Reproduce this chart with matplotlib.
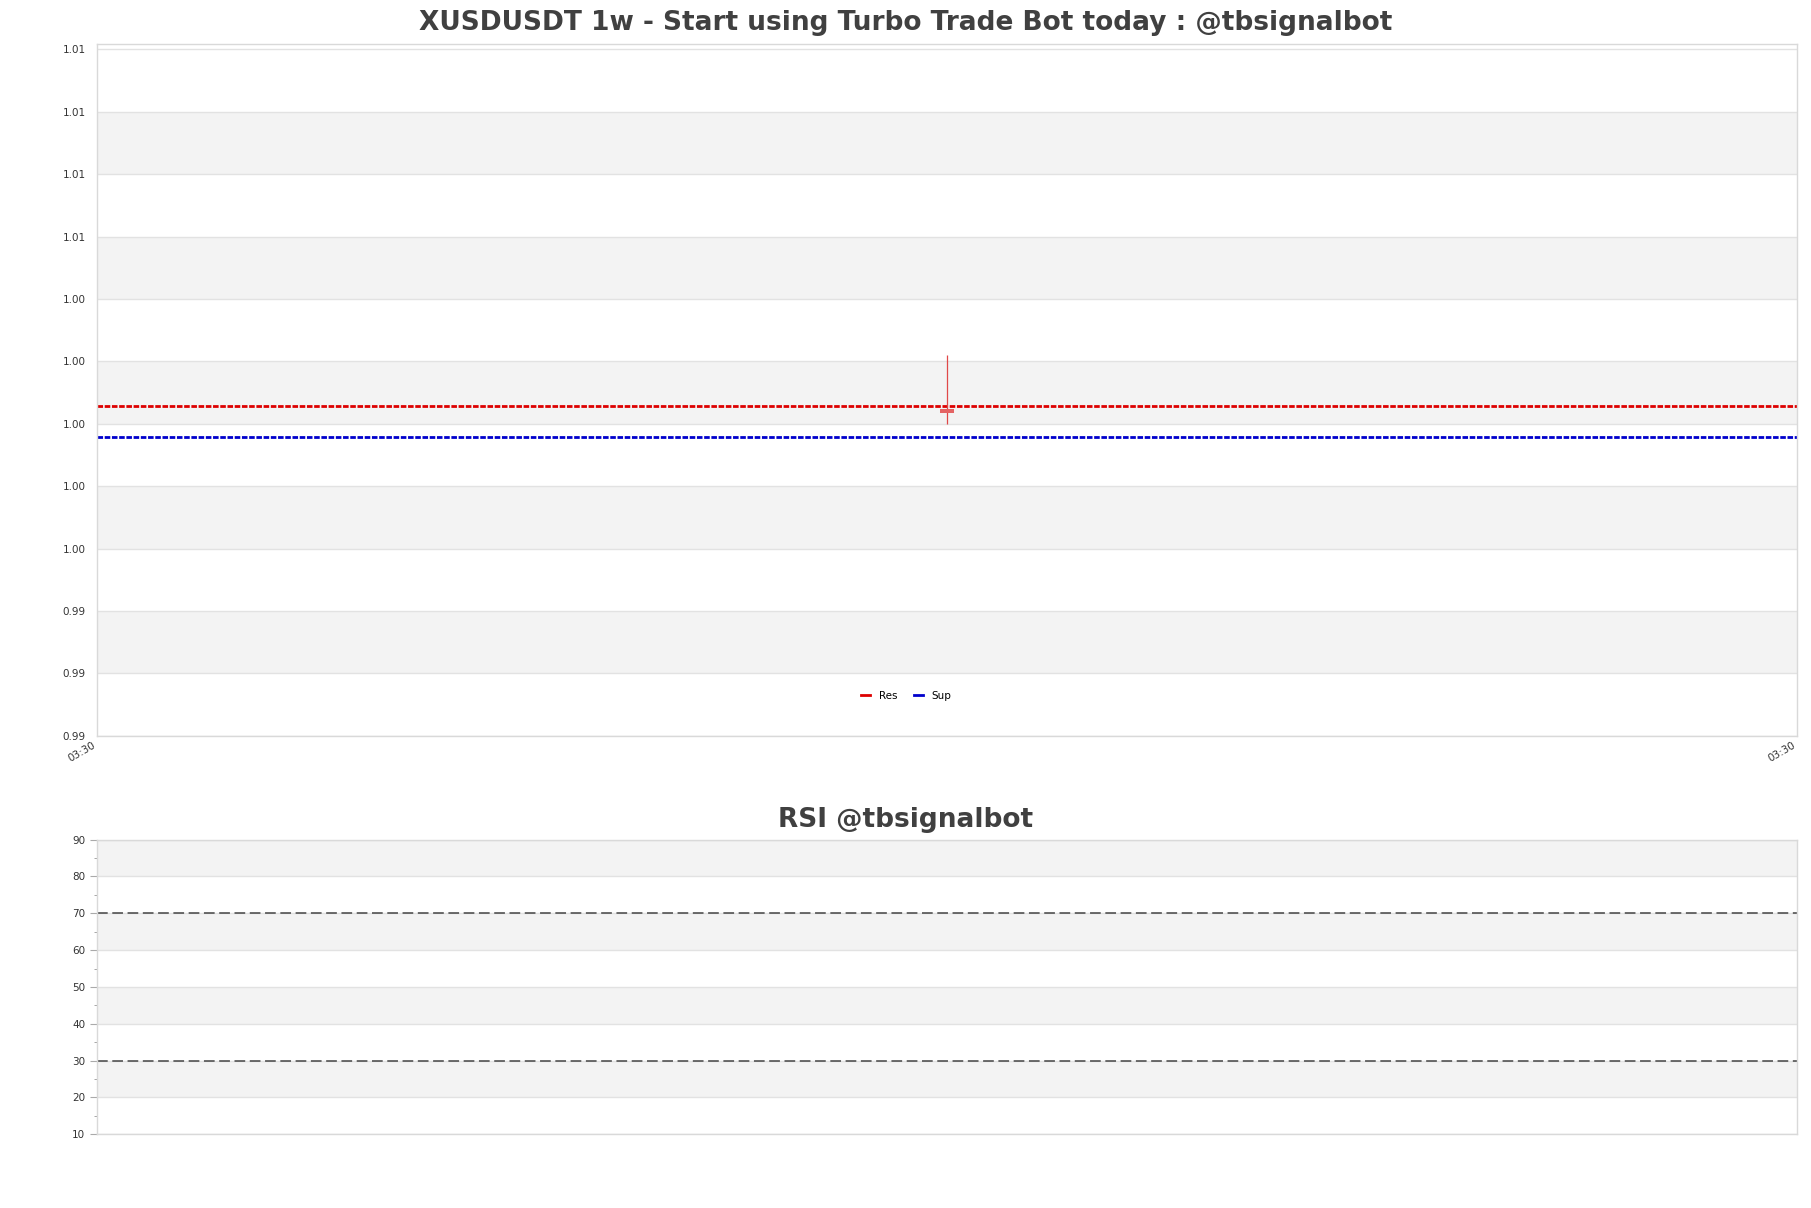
import numpy as np
import matplotlib
matplotlib.use("Agg")
import matplotlib.pyplot as plt
from matplotlib.ticker import MultipleLocator, FixedLocator

# candle data (one weekly candle)
candle_x = [0]
opens = [1.00049]
highs = [1.00220]
lows = [0.99998]
closes = [1.00036]

res_level = 1.00058
sup_level = 0.99958

x_ticks = [-0.5, 0.5]
x_labels = ['03:30', '03:30']

price_ticks = [0.990, 0.992, 0.994, 0.996, 0.998, 1.000, 1.002, 1.004, 1.006, 1.008, 1.010, 1.012]
rsi_ticks = [10, 20, 30, 40, 50, 60, 70, 80, 90]
rsi_levels = [70, 30]

title_main = 'XUSDUSDT 1w - Start using Turbo Trade Bot today : @tbsignalbot'
title_rsi = 'RSI @tbsignalbot'

spine_col = '#d9d9d9'
band_col = '#f3f3f3'
text_col = '#333333'


def style_axes(ax, ticks):
    for s in ax.spines.values():
        s.set_color(spine_col)
        s.set_linewidth(1.0)
    ax.set_facecolor('white')
    # alternating grey bands between ticks
    for i in range(len(ticks) - 1):
        if i % 2 == 1:
            ax.axhspan(ticks[i], ticks[i + 1], color=band_col, zorder=0, lw=0)
    for t in ticks:
        ax.axhline(t, color='#e2e2e2', lw=1.0, zorder=0.5)


def main():
    fig = plt.figure(figsize=(18.11, 12.08), dpi=100)

    ax = fig.add_axes([0.0536, 0.3909, 0.9387, 0.5728])
    style_axes(ax, price_ticks)

    ax.axhline(res_level, color='#dd0000', lw=2.0, ls=(0, (2, 0.6)), label='Res', zorder=2)
    ax.axhline(sup_level, color='#0000cc', lw=2.0, ls=(0, (2, 0.6)), label='Sup', zorder=2)

    body = [c - o for o, c in zip(opens, closes)]
    ax.vlines(candle_x, lows, highs, color='#e04848', lw=0.9, zorder=3)
    ax.bar(candle_x, body, bottom=opens, width=0.0078, color='#e46464', zorder=4)

    ax.set_xlim(-0.5, 0.5)
    ax.set_ylim(0.990, 1.01218)
    ax.yaxis.set_major_locator(FixedLocator(price_ticks))
    ax.set_yticklabels(['%.2f' % t for t in price_ticks])
    ax.set_xticks(x_ticks)
    ax.set_xticklabels(x_labels, rotation=30, ha='right')
    ax.tick_params(axis='both', length=0, labelsize=7.5, colors=text_col, pad=8)
    ax.tick_params(axis='x', pad=3)

    leg = ax.legend(loc='center', bbox_to_anchor=(0.476, 0.058), ncol=2, frameon=False,
                    fontsize=7.5, handlelength=0.9, columnspacing=1.6)
    for h in leg.get_lines():
        h.set_linestyle('-')

    # RSI panel
    ax2 = fig.add_axes([0.0536, 0.0611, 0.9387, 0.2438])
    style_axes(ax2, rsi_ticks)
    for lvl in rsi_levels:
        ax2.axhline(lvl, color='#444444', lw=1.1, ls=(0, (7, 3)), zorder=2)
    ax2.set_xlim(-0.5, 0.5)
    ax2.set_ylim(10, 90)
    ax2.yaxis.set_major_locator(FixedLocator(rsi_ticks))
    ax2.yaxis.set_minor_locator(MultipleLocator(5))
    ax2.set_xticks([])
    ax2.tick_params(axis='y', which='major', length=5, color='#aaaaaa', labelsize=7.5, labelcolor=text_col)
    ax2.tick_params(axis='y', which='minor', length=2.5, color='#999999')

    fig.text(0.5, 1 - 23 / 1208, title_main, ha='center', va='center',
             fontsize=19, fontweight='bold', color='#404040')
    fig.text(0.5, 1 - 820 / 1208, title_rsi, ha='center', va='center',
             fontsize=19, fontweight='bold', color='#404040')

    fig.savefig('out.png', dpi=100)


if __name__ == "__main__":
    main()
